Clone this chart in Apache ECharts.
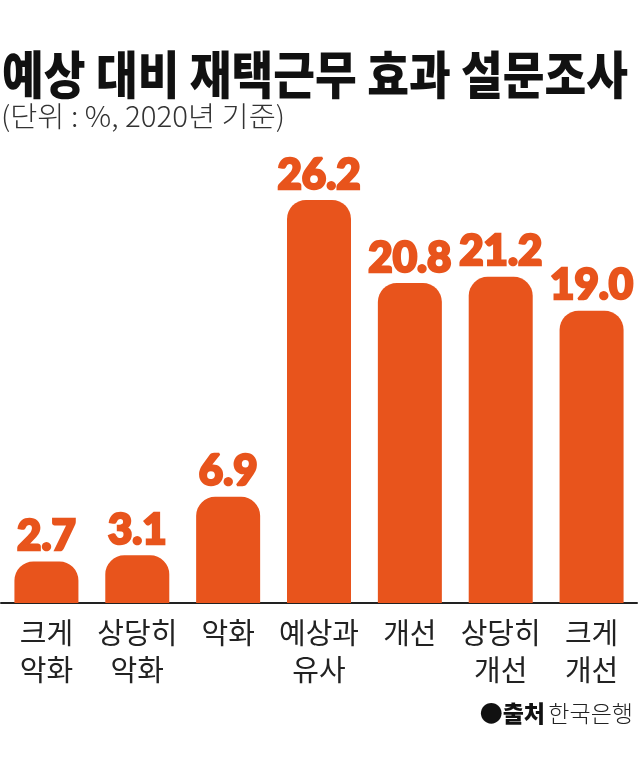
<!DOCTYPE html>
<html>
<head>
<meta charset="utf-8">
<script src="https://cdn.jsdelivr.net/npm/echarts@6/dist/echarts.min.js"></script>
<style>
html,body{margin:0;padding:0;background:#fff;}
#main{width:640px;height:757px;}
</style>
</head>
<body>
<div id="main"></div>
<script>
var categories = ['크게\n악화', '상당히\n악화', '악화', '예상과\n유사', '개선', '상당히\n개선', '크게\n개선'];
var values = [2.7, 3.1, 6.9, 26.2, 20.8, 21.2, 19.0];
var titleText = '예상 대비 재택근무 효과 설문조사';
var subtitleText = '(단위 : %, 2020년 기준)';

var KR = '"Noto Sans CJK KR", "Noto Sans", sans-serif';
function measure(text, font) {
  var c = document.createElement('canvas').getContext('2d');
  c.font = font;
  return c.measureText(text).width;
}
var titleFont = '900 51px "Noto Sans CJK KR"';
var titleScale = 626 / measure(titleText, titleFont);
var subFont = '300 28px "Noto Sans CJK KR"';
var subScale = 284 / measure(subtitleText, subFont);

var BAR = '#E8541C';
var chart = echarts.init(document.getElementById('main'), null, {renderer: 'canvas'});
chart.setOption({
  backgroundColor: '#fff',
  animation: false,
  grid: {left: 1, right: 3, top: 141.5, bottom: 154, containLabel: false},
  xAxis: {
    type: 'category',
    data: categories,
    axisLine: {show: true, lineStyle: {color: '#222', width: 2}},
    axisTick: {show: false},
    axisLabel: {
      interval: 0, margin: 11, fontFamily: KR, fontSize: 29, lineHeight: 37,
      color: '#222', align: 'center'
    }
  },
  yAxis: {
    type: 'value', min: 0, max: 30, show: false,
    splitLine: {show: false}
  },
  series: [{
    type: 'bar',
    data: values,
    barWidth: 64,
    itemStyle: {color: BAR, borderRadius: [19, 19, 0, 0]},
    label: {
      show: true, position: 'top', distance: 4,
      formatter: function (p) { return p.value.toFixed(1); },
      fontFamily: 'Lato, Roboto, sans-serif', fontWeight: 900, fontSize: 42,
      color: BAR, textBorderColor: BAR, textBorderWidth: 2.5
    }
  }],
  graphic: [
    {
      type: 'text', left: 2, top: 49,
      scaleX: titleScale, originX: 0,
      style: {text: titleText, font: titleFont, fill: '#111'}
    },
    {
      type: 'text', left: 1, top: 102,
      scaleX: subScale, originX: 0,
      style: {text: subtitleText, font: subFont, fill: '#333'}
    },
    {
      type: 'text', right: 7, top: 702,
      style: {
        text: '{b|●출처} {r|한국은행}',
        rich: {
          b: {fontFamily: KR, fontWeight: 900, fontSize: 23, fill: '#111'},
          r: {fontFamily: KR, fontWeight: 300, fontSize: 23, fill: '#222'}
        }
      }
    }
  ]
});
</script>
</body>
</html>
